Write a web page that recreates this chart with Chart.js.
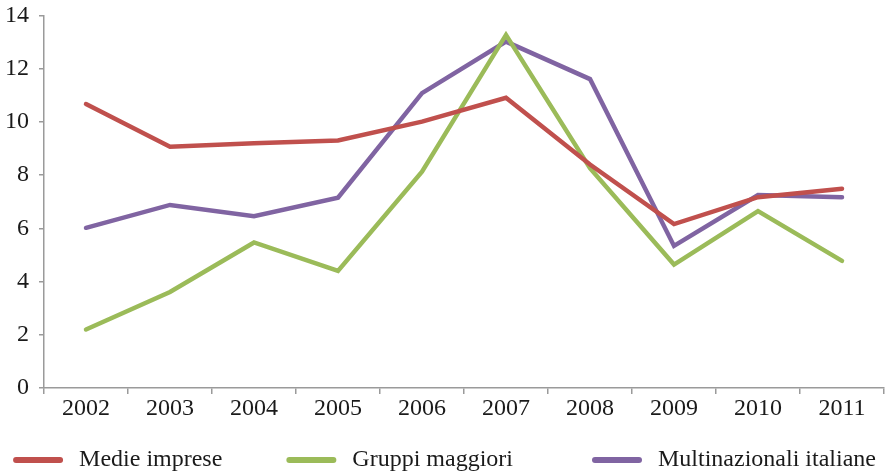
<!DOCTYPE html>
<html>
<head>
<meta charset="utf-8">
<script src="https://cdn.jsdelivr.net/npm/chart.js@4/dist/chart.umd.min.js"></script>
<style>
  html, body { margin: 0; padding: 0; background: #fff; }
  #wrap { width: 889px; height: 476px; }
</style>
</head>
<body>
<div id="wrap"><canvas id="c" width="889" height="476"></canvas></div>
<script>
const years = ['2002','2003','2004','2005','2006','2007','2008','2009','2010','2011'];
const medieImprese = [10.67, 9.07, 9.2, 9.3, 10.01, 10.91, 8.4, 6.16, 7.17, 7.49];
const gruppiMaggiori = [2.2, 3.61, 5.47, 4.4, 8.13, 13.27, 8.26, 4.64, 6.65, 4.78];
const multinazionali = [6.02, 6.88, 6.46, 7.15, 11.08, 13.02, 11.61, 5.34, 7.25, 7.17];
const seriesNames = ['Medie imprese', 'Gruppi maggiori', 'Multinazionali italiane'];
const colors = ['#C0504D', '#9BBB59', '#8064A2'];

const fontFamily = '"Liberation Serif", "Times New Roman", serif';
const font = { family: fontFamily, size: 24 };
const textColor = '#1a1a1a';
const axisColor = '#9a9a9a';

const mk = (i, data) => ({
  label: seriesNames[i], data,
  borderColor: colors[i], backgroundColor: colors[i],
  borderWidth: 4.5, pointRadius: 0, tension: 0, borderJoinStyle: 'miter', borderCapStyle: 'round'
});

// Legend drawn below the axis, using the datasets' labels and colours
const bottomLegend = {
  id: 'bottomLegend',
  afterDraw(chart) {
    const ctx = chart.ctx;
    const lineW = 50, gapText = 16, gaps = [64, 79], yc = 460;
    ctx.save();
    ctx.font = `24px ${fontFamily}`;
    const items = chart.data.datasets.map(ds => ({ ds, w: lineW + gapText + ctx.measureText(ds.label).width }));
    const total = items.reduce((a, it) => a + it.w, 0) + gaps.reduce((a, g) => a + g, 0);
    let x = (chart.width - total) / 2;
    items.forEach(({ ds, w }, i) => {
      ctx.strokeStyle = ds.borderColor;
      ctx.lineWidth = 6;
      ctx.lineCap = 'round';
      ctx.beginPath();
      ctx.moveTo(x + 3, yc);
      ctx.lineTo(x + lineW - 3, yc);
      ctx.stroke();
      ctx.fillStyle = textColor;
      ctx.textBaseline = 'middle';
      ctx.textAlign = 'left';
      ctx.fillText(ds.label, x + lineW + gapText, yc);
      x += w + (gaps[i] || 0);
    });
    ctx.restore();
  }
};

new Chart(document.getElementById('c'), {
  type: 'line',
  data: { labels: years, datasets: [mk(0, medieImprese), mk(1, gruppiMaggiori), mk(2, multinazionali)] },
  plugins: [bottomLegend],
  options: {
    responsive: false, animation: false,
    layout: { padding: { top: 0, right: 5, left: 0, bottom: 48 } },
    plugins: {
      tooltip: { enabled: false },
      legend: { display: false }
    },
    scales: {
      x: {
        offset: true,
        grid: { offset: true, drawOnChartArea: false, drawTicks: true, tickLength: 6, color: axisColor, lineWidth: 1.5 },
        border: { display: true, color: axisColor, width: 1.5 },
        ticks: { font, color: textColor, padding: 0, maxRotation: 0 },
        afterFit(s) { s.height = 40; }
      },
      y: {
        min: 0, max: 14,
        grid: { drawOnChartArea: false, drawTicks: true, tickLength: 5, color: axisColor, lineWidth: 1.5 },
        border: { display: true, color: axisColor, width: 1.5 },
        ticks: { font, color: textColor, stepSize: 2, padding: 10 },
        afterFit(s) { s.width = 44; s.paddingTop = 15.5; }
      }
    }
  }
});
</script>
</body>
</html>
